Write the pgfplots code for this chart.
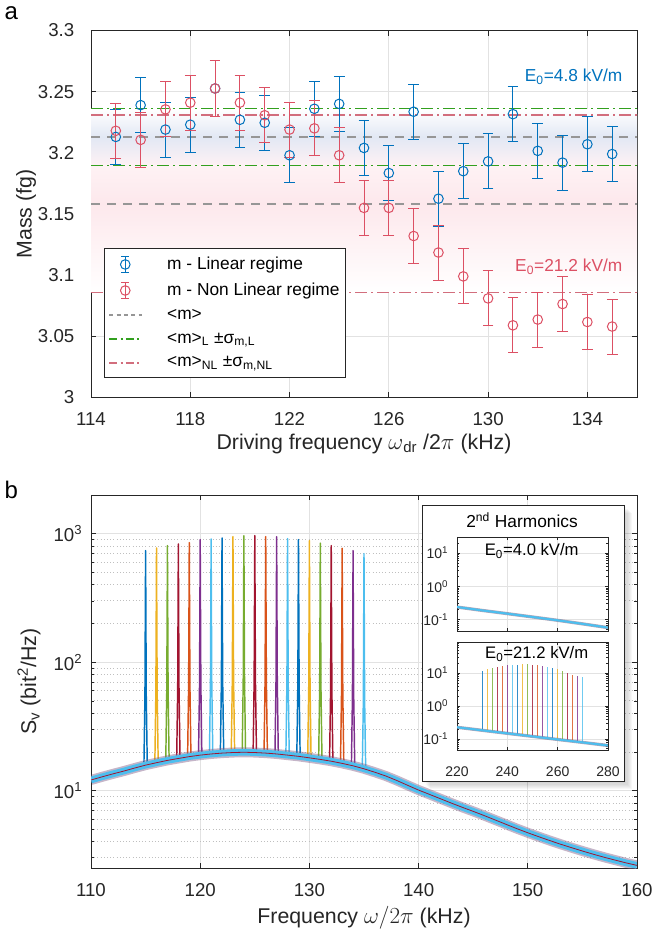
\documentclass[border=0pt]{standalone}
\usepackage{pgfplots}
\pgfplotsset{compat=1.18}
\usepackage{pgfplotstable}
\usepackage{fontspec}
\setmainfont{Liberation Sans}

\definecolor{mblue}{RGB}{0,114,189}
\definecolor{mred}{RGB}{220,80,100}
\definecolor{mgreen}{RGB}{50,160,30}
\definecolor{mredl}{RGB}{210,110,125}
\definecolor{mgray}{RGB}{150,150,150}
\definecolor{axc}{RGB}{38,38,38}
\definecolor{gridc}{RGB}{226,226,226}
\definecolor{bandblue}{RGB}{226,232,244}
\definecolor{bandpink}{RGB}{253,232,236}
\definecolor{c1}{RGB}{0,114,189}
\definecolor{c2}{RGB}{237,177,32}
\definecolor{c3}{RGB}{119,172,48}
\definecolor{c4}{RGB}{162,20,47}
\definecolor{c5}{RGB}{217,83,25}
\definecolor{c6}{RGB}{126,47,142}
\definecolor{c7}{RGB}{77,190,238}

\newcommand\legerr[1]{%
  \draw[draw=#1, line width=0.75pt] (0.52cm,-0.21cm) -- (0.52cm,0.21cm);
  \draw[draw=#1, line width=0.75pt] (0.42cm,-0.21cm) -- (0.62cm,-0.21cm);
  \draw[draw=#1, line width=0.75pt] (0.42cm,0.21cm) -- (0.62cm,0.21cm);
  \draw[draw=#1, line width=0.75pt] (0.52cm,0cm) circle (3.6pt);}
\newcommand\legline[2]{%
  \draw[draw=#1, line width=1.4pt, #2] (0.1cm,0cm) -- (0.95cm,0cm);}
\newcommand\lsp{\hspace*{17pt}}

\pgfplotsset{
  mystyle/.style={
    scale only axis,
    axis line style={axc, line width=0.6pt},
    tick style={axc, line width=0.5pt},
    tick align=inside,
    major tick length=4pt,
    minor tick length=2pt,
    grid=major,
    major grid style={gridc, line width=0.5pt},
    tick label style={font=\fontsize{14}{16}\selectfont, text=axc},
    xticklabel style={yshift=-8pt},
    yticklabel style={xshift=-3pt},
    /pgf/number format/assume math mode=true,
  },
  legErrBlue/.style={legend image code/.code={\legerr{mblue}}},
  legErrRed/.style={legend image code/.code={\legerr{mred}}},
  legGray/.style={legend image code/.code={\legline{mgray}{dash pattern=on 3pt off 2.5pt}}},
  legGreen/.style={legend image code/.code={\legline{mgreen}{dash pattern=on 6pt off 2.5pt on 1.5pt off 2.5pt}}},
  legRed/.style={legend image code/.code={\legline{mredl}{dash pattern=on 6pt off 2.5pt on 1.5pt off 2.5pt}}},
  pk/.style={line width=1.1pt, line join=round, forget plot},
  ipk/.style={line width=0.5pt, forget plot, opacity=0.8},
}

\pgfplotstableread{
f s
110 12.1
111 12.8
112 13.5
113 14.2
114 15.0
115 15.8
116 16.5
117 17.2
118 17.8
119 18.4
120 18.9
121 19.3
122 19.6
123 19.8
124 19.9
125 19.8
126 19.6
127 19.3
128 18.9
129 18.5
130 18.0
131 17.5
132 16.95
133 16.3
134 15.6
135 14.8
136 13.9
137 13.0
138 12.0
139 11.0
140 10.1
141 9.35
142 8.65
143 8.0
144 7.42
145 6.9
146 6.4
147 5.92
148 5.47
149 5.06
150 4.7
151 4.38
152 4.09
153 3.83
154 3.6
155 3.39
156 3.2
157 3.03
158 2.88
159 2.74
160 2.62
}\bgtable

\pgfplotstableread{
f s
220 0.24
230 0.19
240 0.152
250 0.121
260 0.096
270 0.075
280 0.058
}\bgone

\pgfplotstableread{
f s
220 0.225
230 0.182
240 0.147
250 0.119
260 0.096
270 0.078
280 0.063
}\bgtwo

\begin{document}
\begin{tikzpicture}
\useasboundingbox (0,0) rectangle (489.75pt,698.25pt);

% panel labels
\node[font=\fontsize{18}{20}\selectfont, text=black] at (8.5pt,688pt) {a};
\node[font=\fontsize{18}{20}\selectfont, text=black] at (8.5pt,331pt) {b};

%%%%%%%%%%%%%%%% Panel a
\begin{axis}[mystyle,
  at={(68.25pt,400.125pt)}, anchor=south west,
  width=409.5pt, height=275.25pt,
  xmin=114, xmax=136, ymin=3, ymax=3.3,
  xtick={114,118,...,134},
  ytick={3,3.05,3.1,3.15,3.2,3.25,3.3},
  yticklabels={3,3.05,3.1,3.15,3.2,3.25,3.3},
  yticklabel style={xshift=-6pt},
  xlabel={Driving frequency $\omega$\textsubscript{dr} /2$\pi$ (kHz)},
  ylabel={Mass (fg)},
  every axis x label/.style={at={(axis description cs:0.5,0)}, anchor=center, yshift=-34.5pt, font=\fontsize{16}{19}\selectfont, text=axc},
  every axis y label/.style={at={(axis description cs:-0.119,0.5)}, anchor=center, rotate=90, font=\fontsize{16}{19}\selectfont, text=axc},
  legend cell align=left,
  legend style={at={(axis description cs:0.0238,0.407)}, anchor=north west,
    draw=axc, line width=0.6pt, fill=white,
    font=\fontsize{13}{15}\selectfont, text=black,
    row sep=5.6pt, inner xsep=3pt, inner ysep=5pt,
    nodes={inner sep=1.5pt}},
]
% shaded bands
\addplot[draw=none, forget plot, top color=white, bottom color=white, middle color=bandpink]
  coordinates {(114,3.0857) (136,3.0857) (136,3.231) (114,3.231)} -- cycle;
\addplot[draw=none, forget plot, top color=white, bottom color=bandpink!60!white, middle color=bandblue]
  coordinates {(114,3.1905) (136,3.1905) (136,3.2355) (114,3.2355)} -- cycle;

% mean lines
\addplot[mgray, line width=1.3pt, dash pattern=on 7pt off 5pt, forget plot] coordinates {(114,3.2128) (136,3.2128)};
\addplot[mgray, line width=1.3pt, dash pattern=on 7pt off 5pt, forget plot] coordinates {(114,3.1583) (136,3.1583)};
\addplot[mgreen, line width=1pt, dash pattern=on 9pt off 3pt on 1.5pt off 3pt, forget plot] coordinates {(114,3.236) (136,3.236)};
\addplot[mgreen, line width=1pt, dash pattern=on 9pt off 3pt on 1.5pt off 3pt, forget plot] coordinates {(114,3.1897) (136,3.1897)};
\addplot[mredl, line width=0.9pt, dash pattern=on 9pt off 3pt on 1.5pt off 3pt, forget plot] coordinates {(114,3.231) (136,3.231)};
\addplot[mredl, line width=0.9pt, dash pattern=on 9pt off 3pt on 1.5pt off 3pt, forget plot] coordinates {(114,3.0857) (136,3.0857)};

% linear regime
\addplot[mblue, only marks, mark=o, mark size=3.6pt, line width=0.75pt, forget plot,
  error bars/.cd, y dir=both, y explicit,
  error bar style={line width=0.75pt},
  error mark options={rotate=90, mark size=4pt, line width=0.75pt}]
coordinates {
(115,3.213) +- (0,0.0225)
(116,3.239) +- (0,0.0225)
(117,3.219) +- (0,0.0225)
(118,3.223) +- (0,0.0225)
(119,3.2526) +- (0,0.0225)
(120,3.227) +- (0,0.0225)
(121,3.2246) +- (0,0.0225)
(122,3.198) +- (0,0.0225)
(123,3.236) +- (0,0.0225)
(124,3.240) +- (0,0.0225)
(125,3.204) +- (0,0.0225)
(126,3.1835) +- (0,0.0225)
(127,3.2336) +- (0,0.0225)
(128,3.1625) +- (0,0.0225)
(129,3.185) +- (0,0.0225)
(130,3.193) +- (0,0.0225)
(131,3.2316) +- (0,0.0225)
(132,3.2016) +- (0,0.0225)
(133,3.192) +- (0,0.0225)
(134,3.207) +- (0,0.0225)
(135,3.199) +- (0,0.0225)
};
% non linear regime
\addplot[mred, only marks, mark=o, mark size=3.6pt, line width=0.75pt, forget plot,
  error bars/.cd, y dir=both, y explicit,
  error bar style={line width=0.75pt},
  error mark options={rotate=90, mark size=4pt, line width=0.75pt}]
coordinates {
(115,3.218) +- (0,0.0225)
(116,3.2106) +- (0,0.0225)
(117,3.2355) +- (0,0.0225)
(118,3.241) +- (0,0.0225)
(119,3.2526) +- (0,0.0225)
(120,3.241) +- (0,0.0225)
(121,3.2307) +- (0,0.0225)
(122,3.219) +- (0,0.0225)
(123,3.220) +- (0,0.0225)
(124,3.198) +- (0,0.0225)
(125,3.155) +- (0,0.0225)
(126,3.155) +- (0,0.0225)
(127,3.132) +- (0,0.0225)
(128,3.1185) +- (0,0.0225)
(129,3.099) +- (0,0.0225)
(130,3.081) +- (0,0.0225)
(131,3.059) +- (0,0.0225)
(132,3.0637) +- (0,0.0225)
(133,3.0764) +- (0,0.0225)
(134,3.0617) +- (0,0.0225)
(135,3.058) +- (0,0.0225)
};

\addlegendimage{legErrBlue}
\addlegendentry{\lsp m - Linear regime}
\addlegendimage{legErrRed}
\addlegendentry{\lsp m - Non Linear regime}
\addlegendimage{legGray}
\addlegendentry{\lsp <m>}
\addlegendimage{legGreen}
\addlegendentry{\lsp <m>\textsubscript{L} ±σ\textsubscript{m,L}}
\addlegendimage{legRed}
\addlegendentry{\lsp <m>\textsubscript{NL} ±σ\textsubscript{m,NL}}

\node[anchor=east, text=mblue, font=\fontsize{13}{15}\selectfont] at (axis cs:135.6,3.2625) {E\textsubscript{0}=4.8 kV/m};
\node[anchor=east, text=mred, font=\fontsize{13}{15}\selectfont] at (axis cs:135.6,3.107) {E\textsubscript{0}=21.2 kV/m};
\end{axis}

%%%%%%%%%%%%%%%% Panel b
\begin{axis}[mystyle,
  at={(68.25pt,47.25pt)}, anchor=south west,
  width=409.5pt, height=279.75pt,
  xmin=110, xmax=160, ymode=log, ymin=2.5, ymax=2000,
  xtick={110,120,...,160},
  ytick={10,100,1000},
  yticklabels={10\textsuperscript{1},10\textsuperscript{2},10\textsuperscript{3}},
  minor ytick={3,4,5,6,7,8,9,20,30,40,50,60,70,80,90,200,300,400,500,600,700,800,900},
  yminorgrids,
  minor grid style={gray!50, dotted, line width=0.6pt},
  xlabel={Frequency $\omega/2\pi$ (kHz)},
  ylabel={S\textsubscript{v} (bit\textsuperscript{2}/Hz)},
  every axis x label/.style={at={(axis description cs:0.5,0)}, anchor=center, yshift=-37pt, font=\fontsize{16}{19}\selectfont, text=axc},
  every axis y label/.style={at={(axis description cs:-0.1136,0.5)}, anchor=center, rotate=90, font=\fontsize{16}{19}\selectfont, text=axc},
]
\addplot[pk, c1] coordinates {(114.85,16.5) (114.94,55) (115,738) (115.06,55) (115.15,16.5)};
\addplot[pk, c2] coordinates {(115.85,17.2) (115.94,58) (116,774) (116.06,58) (116.15,17.2)};
\addplot[pk, c3] coordinates {(116.85,18.0) (116.94,61) (117,807) (117.06,61) (117.15,18.0)};
\addplot[pk, c4] coordinates {(117.85,18.6) (117.94,63) (118,832) (118.06,63) (118.15,18.6)};
\addplot[pk, c5] coordinates {(118.85,19.2) (118.94,65) (119,851) (119.06,65) (119.15,19.2)};
\addplot[pk, c6] coordinates {(119.85,19.8) (119.94,68) (120,898) (120.06,68) (120.15,19.8)};
\addplot[pk, c7] coordinates {(120.85,20.2) (120.94,69) (121,910) (121.06,69) (121.15,20.2)};
\addplot[pk, c1] coordinates {(121.85,20.5) (121.94,70) (122,926) (122.06,70) (122.15,20.5)};
\addplot[pk, c2] coordinates {(122.85,20.7) (122.94,71) (123,948) (123.06,71) (123.15,20.7)};
\addplot[pk, c3] coordinates {(123.85,20.8) (123.94,72) (124,965) (124.06,72) (124.15,20.8)};
\addplot[pk, c4] coordinates {(124.85,20.7) (124.94,72) (125,965) (125.06,72) (125.15,20.7)};
\addplot[pk, c5] coordinates {(125.85,20.5) (125.94,71) (126,948) (126.06,71) (126.15,20.5)};
\addplot[pk, c6] coordinates {(126.85,20.2) (126.94,70) (127,948) (127.06,70) (127.15,20.2)};
\addplot[pk, c7] coordinates {(127.85,19.8) (127.94,68) (128,915) (128.06,68) (128.15,19.8)};
\addplot[pk, c1] coordinates {(128.85,19.3) (128.94,66) (129,898) (129.06,66) (129.15,19.3)};
\addplot[pk, c2] coordinates {(129.85,18.8) (129.94,65) (130,883) (130.06,65) (130.15,18.8)};
\addplot[pk, c3] coordinates {(130.85,18.3) (130.94,62) (131,845) (131.06,62) (131.15,18.3)};
\addplot[pk, c4] coordinates {(131.85,17.7) (131.94,59) (132,807) (132.06,59) (132.15,17.7)};
\addplot[pk, c5] coordinates {(132.85,17.0) (132.94,56) (133,770) (133.06,56) (133.15,17.0)};
\addplot[pk, c6] coordinates {(133.85,16.3) (133.94,53) (134,738) (134.06,53) (134.15,16.3)};
\addplot[pk, c7] coordinates {(134.85,15.5) (134.94,50) (135,700) (135.06,50) (135.15,15.5)};
% noisy background band
\addplot[forget plot, color=gray!55!c6, line width=7.5pt, opacity=0.45] table[x=f,y=s]{\bgtable};
\addplot[forget plot, color=c7, line width=5pt] table[x=f,y=s]{\bgtable};
\addplot[forget plot, color=c4, line width=0.6pt] table[x=f,y=s]{\bgtable};
\end{axis}

% inset box with soft shadow
\foreach \s in {1,...,7} {
  \fill[black, opacity=0.03] (316.5pt+\s*0.9pt,112.5pt-\s*0.9pt) rectangle (468pt+\s*0.9pt,319.5pt-\s*0.9pt);
}
\draw[fill=white, draw=axc, line width=0.7pt] (316.5pt,112.5pt) rectangle (468pt,319.5pt);
\node[font=\fontsize{13}{15}\selectfont, text=black] at (391.5pt,308.25pt) {2\textsuperscript{nd} Harmonics};

\begin{axis}[mystyle,
  at={(342.75pt,225pt)}, anchor=south west,
  width=113.25pt, height=70.5pt,
  xmin=220, xmax=280, ymode=log, ymin=0.046, ymax=30,
  xtick={220,240,260,280}, xticklabels={},
  ytick={0.1,1,10},
  yticklabels={10\textsuperscript{-1},10\textsuperscript{0},10\textsuperscript{1}},
  minor ytick={0.05,0.06,0.07,0.08,0.09,0.2,0.3,0.4,0.5,0.6,0.7,0.8,0.9,2,3,4,5,6,7,8,9,20},
  major tick length=2.5pt, minor tick length=1.5pt,
  tick label style={font=\fontsize{10.5}{12}\selectfont, text=axc},
  xticklabel style={yshift=0pt}, yticklabel style={xshift=0pt},
]
\addplot[forget plot, color=gray!70!c6, line width=2.4pt, opacity=0.6] table[x=f,y=s]{\bgone};
\addplot[forget plot, color=c7, line width=1.6pt] table[x=f,y=s]{\bgone};
\node[font=\fontsize{12.5}{14}\selectfont, text=black] at (rel axis cs:0.495,0.854) {E\textsubscript{0}=4.0 kV/m};
\end{axis}

\begin{axis}[mystyle,
  at={(342.75pt,135.75pt)}, anchor=south west,
  width=113.25pt, height=81pt,
  xmin=220, xmax=280, ymode=log, ymin=0.046, ymax=87,
  xtick={220,240,260,280},
  ytick={0.1,1,10},
  yticklabels={10\textsuperscript{-1},10\textsuperscript{0},10\textsuperscript{1}},
  minor ytick={0.05,0.06,0.07,0.08,0.09,0.2,0.3,0.4,0.5,0.6,0.7,0.8,0.9,2,3,4,5,6,7,8,9,20,30,40,50,60,70,80},
  major tick length=2.5pt, minor tick length=1.5pt,
  tick label style={font=\fontsize{10.5}{12}\selectfont, text=axc},
  xticklabel style={yshift=-1pt}, yticklabel style={xshift=0pt},
]
\addplot[ipk, c1] coordinates {(230,0.18) (230,11.5)};
\addplot[ipk, c2] coordinates {(232,0.175) (232,13)};
\addplot[ipk, c3] coordinates {(234,0.167) (234,14)};
\addplot[ipk, c4] coordinates {(236,0.16) (236,15.2)};
\addplot[ipk, c5] coordinates {(238,0.153) (238,16.7)};
\addplot[ipk, c6] coordinates {(240,0.147) (240,17)};
\addplot[ipk, c7] coordinates {(242,0.141) (242,17.5)};
\addplot[ipk, c1] coordinates {(244,0.135) (244,18)};
\addplot[ipk, c2] coordinates {(246,0.129) (246,18.3)};
\addplot[ipk, c3] coordinates {(248,0.124) (248,18.3)};
\addplot[ipk, c4] coordinates {(250,0.119) (250,18)};
\addplot[ipk, c5] coordinates {(252,0.114) (252,17)};
\addplot[ipk, c6] coordinates {(254,0.109) (254,16.2)};
\addplot[ipk, c7] coordinates {(256,0.105) (256,15.2)};
\addplot[ipk, c1] coordinates {(258,0.1) (258,14)};
\addplot[ipk, c2] coordinates {(260,0.096) (260,13)};
\addplot[ipk, c3] coordinates {(262,0.092) (262,11.5)};
\addplot[ipk, c4] coordinates {(264,0.088) (264,10.3)};
\addplot[ipk, c5] coordinates {(266,0.084) (266,8.9)};
\addplot[ipk, c6] coordinates {(268,0.081) (268,7.9)};
\addplot[ipk, c7] coordinates {(270,0.078) (270,7.6)};
\addplot[forget plot, color=gray!70!c6, line width=2.4pt, opacity=0.6] table[x=f,y=s]{\bgtwo};
\addplot[forget plot, color=c7, line width=1.6pt] table[x=f,y=s]{\bgtwo};
\node[font=\fontsize{12.5}{14}\selectfont, text=black] at (rel axis cs:0.528,0.889) {E\textsubscript{0}=21.2 kV/m};
\end{axis}
\end{tikzpicture}
\end{document}
